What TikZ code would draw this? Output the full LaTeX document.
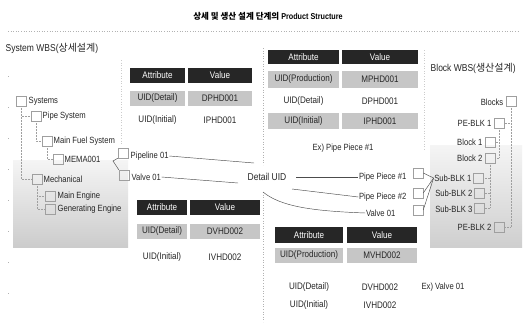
\documentclass[tikz,border=0pt]{standalone}
\usepackage{fontspec}
\setmainfont{Liberation Sans}[FakeStretch=0.85]
\newfontfamily\kr{Noto Sans CJK KR}
\begin{document}
\begin{tikzpicture}[x=1pt,y=-1pt,
  lbl/.style={font=\fontsize{9}{11}\selectfont, text=black!85, inner sep=0.5pt},
  sq/.style={draw=gray!75, line width=0.5pt, minimum width=10pt, minimum height=10pt, inner sep=0pt},
  hdc/.style={fill=black!85, text=white, font=\fontsize{9.5}{11}\selectfont, minimum height=15pt, inner sep=0pt},
  grc/.style={fill=gray!45, text=black!85, font=\fontsize{9.5}{11}\selectfont, minimum height=15pt, inner sep=0pt},
  plc/.style={text=black!85, font=\fontsize{9.5}{11}\selectfont, minimum height=15pt, inner sep=0pt},
  conn/.style={draw=black!70, line width=0.45pt},
  tree/.style={draw=gray!75, line width=0.5pt, densely dotted},
  sepl/.style={draw=gray!60, line width=0.6pt, dotted}]
\useasboundingbox (0,0) rectangle (524,324);
\fill[white] (0,0) rectangle (524,324);
% shaded regions
\shade[top color=gray!8, bottom color=gray!40] (13,160) rectangle (128,247);
\shade[top color=gray!8, bottom color=gray!38] (430,145) rectangle (522,247);
% separators
\draw[sepl] (8,31) -- (520,31);
\draw[sepl] (263,48) -- (263,165);
\draw[sepl] (263,192) -- (263,322);
\draw[sepl, gray!40] (424,50) -- (424,150);
\draw[sepl, gray!40] (121,60) -- (121,145);
\draw[gray!60, line width=0.6pt, dash pattern=on 1pt off 30pt] (8,45) -- (8,322);
% title
\node[font=\bfseries\fontsize{8.5}{10}\selectfont] (title) at (268,16) {{\kr 상세 및 생산 설계 단계의} Product Structure};
% left tree
\node[lbl, anchor=west, font=\fontsize{10}{12}\selectfont] (swbs) at (5,48) {System WBS({\kr 상세설계})};
\node[sq] (s1) at (21,101) {};
\node[lbl, anchor=west] (s1l) at (28,101) {Systems};
\node[sq] (s2) at (36,116) {};
\node[lbl, anchor=west] (s2l) at (42,116) {Pipe System};
\node[sq] (s3) at (47,141) {};
\node[lbl, anchor=west] (s3l) at (53,141) {Main Fuel System};
\node[sq] (s4) at (58,159) {};
\node[lbl, anchor=west] (s4l) at (64,159) {MEMA001};
\node[sq] (s5) at (37,179) {};
\node[lbl, anchor=west] (s5l) at (43,179) {Mechanical};
\node[sq] (s6) at (50,196) {};
\node[lbl, anchor=west] (s6l) at (57,196) {Main Engine};
\node[sq] (s7) at (50,209) {};
\node[lbl, anchor=west] (s7l) at (57,209) {Generating Engine};
\draw[tree] (s1.south) |- (s2.west);
\draw[tree] (s1.south) |- (s5.west);
\draw[tree] (s2.south) |- (s3.west);
\draw[tree] (s3.south) |- (s4.west);
\draw[tree] (s5.south) |- (s6.west);
\draw[tree] (s5.south) |- (s7.west);
% pipeline / valve
\node[sq] (pl) at (123,153) {};
\node[lbl, anchor=west] (pll) at (130,156) {Pipeline 01};
\node[sq] (vl) at (124,175) {};
\node[lbl, anchor=west] (vll) at (131,177) {Valve 01};
\coordinate (j1) at (113,161);
\draw[conn] (pl.south west) -- (j1) -- (vl.north west);
% Detail UID hub
\node[lbl, font=\fontsize{10}{12}\selectfont] (du) at (267,177) {Detail UID};
\coordinate (cA) at (254,163);
\coordinate (cB) at (238,183);
\coordinate (cC) at (292,189);
\coordinate (cD) at (263,192);
\draw[conn] (pll.east) -- (cA);
\draw[conn] (vll.east) -- (cB);
% right items
\node[lbl, anchor=east] (pp1l) at (407,177) {Pipe Piece \#1};
\node[sq] (pr1) at (418,173) {};
\node[lbl, anchor=east] (pp2l) at (407,197) {Pipe Piece \#2};
\node[sq] (pr2) at (418,193) {};
\node[lbl, anchor=east] (vrl) at (396,213) {Valve 01};
\node[sq] (pr3) at (418,210) {};
\draw[conn, shorten <=9pt] (du.east) -- (pp1l.west);
\draw[conn] (cC) -- (pp2l.west);
\draw[conn] (cD) .. controls (280,206) and (310,211) .. (vrl.west);
% block wbs
\node[lbl, anchor=west, font=\fontsize{10}{12}\selectfont] (bwbs) at (430,68) {Block WBS({\kr 생산설계})};
\node[sq] (b0) at (511,101) {};
\node[lbl, anchor=east] (b0l) at (504,102) {Blocks};
\node[sq] (b1) at (499,123) {};
\node[lbl, anchor=east] (b1l) at (492,123) {PE-BLK 1};
\node[sq] (b2) at (490,142) {};
\node[lbl, anchor=east] (b2l) at (483,142) {Block 1};
\node[sq] (b3) at (490,158) {};
\node[lbl, anchor=east] (b3l) at (483,158) {Block 2};
\node[sq] (b4) at (478,178) {};
\node[lbl, anchor=east] (b4l) at (472,178) {Sub-BLK 1};
\node[sq] (b5) at (479,193) {};
\node[lbl, anchor=east] (b5l) at (473,193) {Sub-BLK 2};
\node[sq] (b6) at (479,208) {};
\node[lbl, anchor=east] (b6l) at (473,209) {Sub-BLK 3};
\node[sq] (b7) at (499,227) {};
\node[lbl, anchor=east] (b7l) at (492,227) {PE-BLK 2};
\draw[tree] (b0.south) |- (b1.east);
\draw[tree] (b0.south) |- (b7.east);
\draw[tree] (b1.south) |- (b2.east);
\draw[tree] (b1.south) |- (b3.east);
\draw[tree] (b3.south) |- (b4.east);
\draw[tree] (b3.south) |- (b5.east);
\draw[tree] (b3.south) |- (b6.east);
\draw[conn] (pr1.east) -- (b4l.west);
\draw[conn] (pr2.east) -- (b4l.west);
\draw[conn] (pr3.east) -- (b4l.west);
% table 1
\node[hdc, minimum width=55pt] (t1ha) at (157.5,75) {Attribute};
\node[hdc, minimum width=64pt] (t1hv) at (220,75) {Value};
\node[grc, minimum width=55pt] (t1aa) at (157.5,98) {UID(Detail)};
\node[grc, minimum width=64pt] (t1av) at (220,98) {DPHD001};
\node[plc, minimum width=55pt] (t1ba) at (157.5,120) {UID(Initial)};
\node[plc, minimum width=64pt] (t1bv) at (220,120) {IPHD001};
% table 2
\node[hdc, minimum width=71pt, minimum height=14pt] (t2ha) at (303.5,57) {Attribute};
\node[hdc, minimum width=76pt, minimum height=14pt] (t2hv) at (380,57) {Value};
\node[grc, minimum width=71pt, minimum height=17pt] (t2aa) at (303.5,79) {UID(Production)};
\node[grc, minimum width=76pt, minimum height=17pt] (t2av) at (380,79) {MPHD001};
\node[plc, minimum width=71pt] (t2ba) at (303.5,101) {UID(Detail)};
\node[plc, minimum width=76pt] (t2bv) at (380,101) {DPHD001};
\node[grc, minimum width=71pt, minimum height=16pt] (t2ca) at (303.5,121) {UID(Initial)};
\node[grc, minimum width=76pt, minimum height=16pt] (t2cv) at (380,121) {IPHD001};
\node[lbl] (ex1) at (343,148) {Ex) Pipe Piece \#1};
% table 3
\node[hdc, minimum width=50pt] (t3ha) at (162,207) {Attribute};
\node[hdc, minimum width=70pt] (t3hv) at (225,207) {Value};
\node[grc, minimum width=50pt] (t3aa) at (162,231) {UID(Detail)};
\node[grc, minimum width=70pt] (t3av) at (225,231) {DVHD002};
\node[plc, minimum width=50pt] (t3ba) at (162,257) {UID(Initial)};
\node[plc, minimum width=70pt] (t3bv) at (225,257) {IVHD002};
% table 4
\node[hdc, minimum width=68pt, minimum height=16pt] (t4ha) at (309,235) {Attribute};
\node[hdc, minimum width=70pt, minimum height=16pt] (t4hv) at (382,235) {Value};
\node[grc, minimum width=68pt] (t4aa) at (309,255) {UID(Production)};
\node[grc, minimum width=70pt] (t4av) at (382,255) {MVHD002};
\node[plc, minimum width=68pt] (t4ba) at (309,287) {UID(Detail)};
\node[plc, minimum width=70pt] (t4bv) at (380,287) {DVHD002};
\node[plc, minimum width=68pt] (t4ca) at (309,305) {UID(Initial)};
\node[plc, minimum width=70pt] (t4cv) at (380,305) {IVHD002};
\node[lbl] (ex2) at (443,287) {Ex) Valve 01};
\end{tikzpicture}
\end{document}
